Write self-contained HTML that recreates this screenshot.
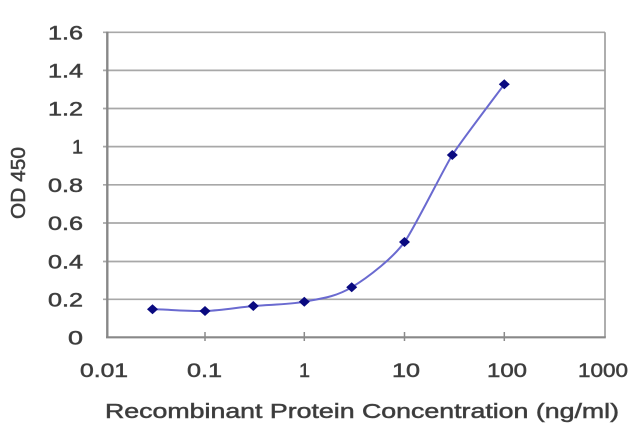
<!DOCTYPE html>
<html>
<head>
<meta charset="utf-8">
<style>
  html, body { margin: 0; padding: 0; background: #ffffff; }
  body { width: 640px; height: 427px; overflow: hidden; }
  svg { display: block; }
  text { font-family: "Liberation Sans", "DejaVu Sans", sans-serif; fill: #3a3a3a; stroke: #4a4a4a; stroke-width: 0.55; }
</style>
</head>
<body>
<svg width="640" height="427" viewBox="0 0 640 427" xmlns="http://www.w3.org/2000/svg">
  <rect x="0" y="0" width="640" height="427" fill="#ffffff"/>

  <!-- gridlines -->
  <g stroke="#a8a8a8" stroke-width="1.7" fill="none">
    <line x1="103" y1="32.3" x2="605" y2="32.3"/>
    <line x1="103" y1="70.4" x2="605" y2="70.4"/>
    <line x1="103" y1="108.5" x2="605" y2="108.5"/>
    <line x1="103" y1="146.6" x2="605" y2="146.6"/>
    <line x1="103" y1="184.8" x2="605" y2="184.8"/>
    <line x1="103" y1="223" x2="605" y2="223"/>
    <line x1="103" y1="261.5" x2="605" y2="261.5"/>
    <line x1="103" y1="299.3" x2="605" y2="299.3"/>
  </g>

  <!-- right border -->
  <line x1="605" y1="32.3" x2="605" y2="337.3" stroke="#a0a0a0" stroke-width="1.7"/>
  <!-- axes -->
  <line x1="107.3" y1="31.5" x2="107.3" y2="338" stroke="#888888" stroke-width="2.4"/>
  <line x1="106" y1="337.3" x2="605.8" y2="337.3" stroke="#888888" stroke-width="2.2"/>

  <!-- x ticks -->
  <g stroke="#8a8a8a" stroke-width="1.5">
    <line x1="205" y1="332" x2="205" y2="341"/>
    <line x1="304.3" y1="332" x2="304.3" y2="341"/>
    <line x1="404.5" y1="332" x2="404.5" y2="341"/>
    <line x1="504.3" y1="332" x2="504.3" y2="341"/>
  </g>

  <!-- series line (smoothed) -->
  <path d="M152.5,309.3
           C161.25,309.0 188.2,311.55 205,311
           C221.8,310.45 236.75,307.55 253.3,306
           C269.85,304.45 287.9,304.8 304.3,301.7
           C320.7,298.58 335.0,297.25 351.7,287.3
           C368.4,277.35 393,258 404.5,242
           C412.9,231 444,168.1 452.3,155
           C460.6,141.9 500,90.2 504.3,84.3"
        fill="none" stroke="#6a6ad0" stroke-width="2"/>

  <!-- markers -->
  <g fill="#0a0a80">
    <polygon points="152.5,304.3 158,309.3 152.5,314.3 147,309.3"/>
    <polygon points="205,306 210.5,311 205,316 199.5,311"/>
    <polygon points="253.3,301 258.8,306 253.3,311 247.8,306"/>
    <polygon points="304.3,296.7 309.8,301.7 304.3,306.7 298.8,301.7"/>
    <polygon points="351.7,282.3 357.2,287.3 351.7,292.3 346.2,287.3"/>
    <polygon points="404.5,237 410,242 404.5,247 399,242"/>
    <polygon points="452.3,150 457.8,155 452.3,160 446.8,155"/>
    <polygon points="504.3,79.3 509.8,84.3 504.3,89.3 498.8,84.3"/>
  </g>

  <!-- y tick labels -->
  <g font-size="19.5" text-anchor="end">
    <text x="83" y="39.3" textLength="35" lengthAdjust="spacingAndGlyphs">1.6</text>
    <text x="83" y="77.4" textLength="35" lengthAdjust="spacingAndGlyphs">1.4</text>
    <text x="83" y="115.5" textLength="35" lengthAdjust="spacingAndGlyphs">1.2</text>
    <text x="83" y="153.6" textLength="11" lengthAdjust="spacingAndGlyphs">1</text>
    <text x="83" y="191.8" textLength="35" lengthAdjust="spacingAndGlyphs">0.8</text>
    <text x="83" y="230" textLength="35" lengthAdjust="spacingAndGlyphs">0.6</text>
    <text x="83" y="268.5" textLength="35" lengthAdjust="spacingAndGlyphs">0.4</text>
    <text x="83" y="306.3" textLength="35" lengthAdjust="spacingAndGlyphs">0.2</text>
    <text x="83" y="344.3" textLength="15" lengthAdjust="spacingAndGlyphs">0</text>
  </g>

  <!-- x tick labels -->
  <g font-size="19.5">
    <text x="80" y="377" textLength="48" lengthAdjust="spacingAndGlyphs">0.01</text>
    <text x="187" y="377" textLength="35" lengthAdjust="spacingAndGlyphs">0.1</text>
    <text x="299" y="377" textLength="11" lengthAdjust="spacingAndGlyphs">1</text>
    <text x="392" y="377" textLength="28" lengthAdjust="spacingAndGlyphs">10</text>
    <text x="487" y="377" textLength="40" lengthAdjust="spacingAndGlyphs">100</text>
    <text x="578" y="377" textLength="50" lengthAdjust="spacingAndGlyphs">1000</text>
  </g>

  <!-- axis titles -->
  <text x="105" y="418" font-size="20.5" textLength="514" lengthAdjust="spacingAndGlyphs">Recombinant Protein Concentration (ng/ml)</text>
  <text transform="translate(25,219) rotate(-90)" x="0" y="0" font-size="20.5" textLength="72" lengthAdjust="spacingAndGlyphs">OD 450</text>
</svg>
</body>
</html>
